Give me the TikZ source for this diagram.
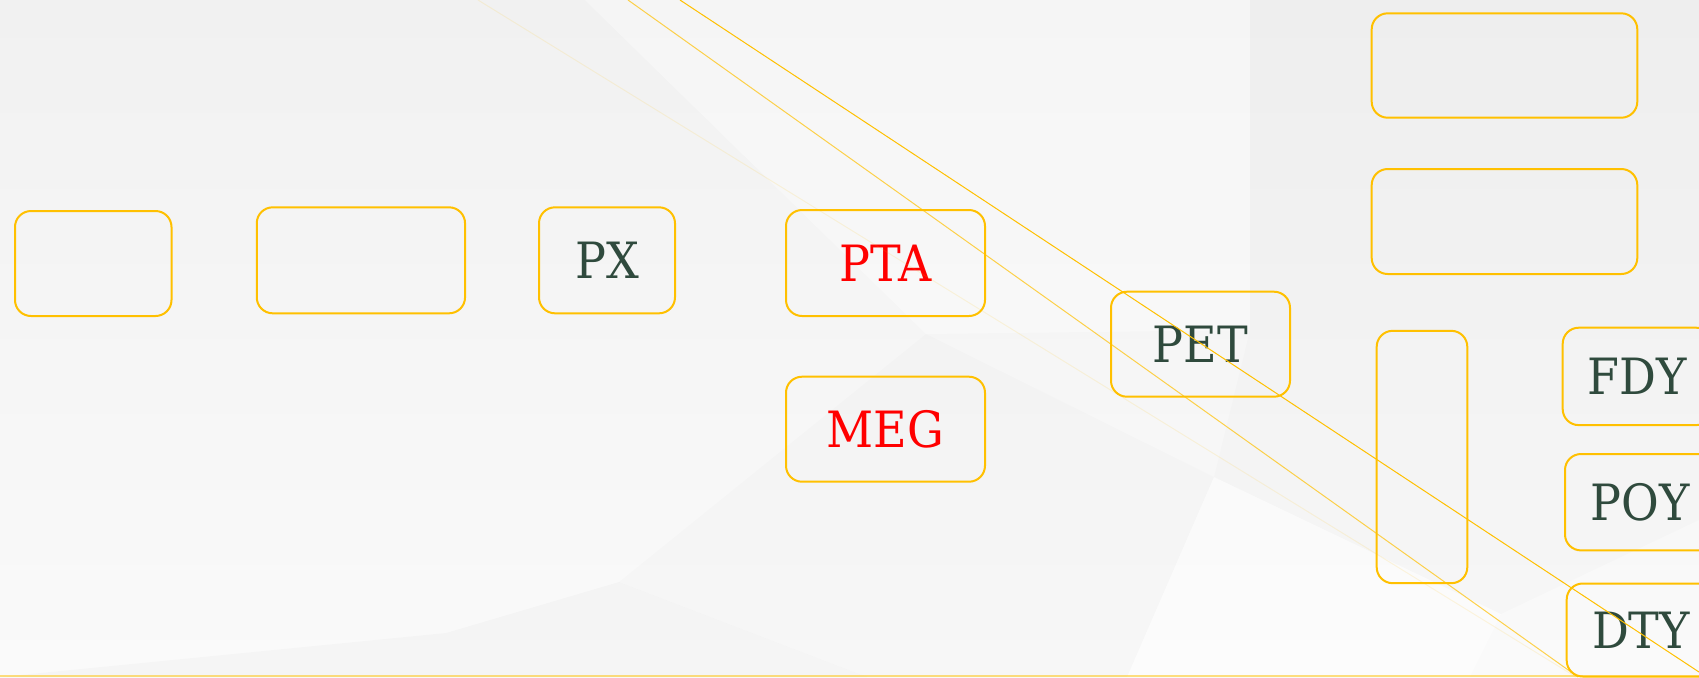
\documentclass[tikz,border=0pt]{standalone}
\usepackage{fontspec}
\setmainfont{DejaVu Serif}[FakeStretch=0.92]
\definecolor{boxgold}{HTML}{FFC000}
\definecolor{txtdark}{HTML}{2F4A3D}
\definecolor{txtred}{HTML}{FF0000}
\definecolor{bgtop}{HTML}{F1F1F1}
\definecolor{bgbot}{HTML}{FAFAFA}
\begin{document}
\begin{tikzpicture}[x=0.5pt,y=-0.5pt,
  box/.style={draw=boxgold, line width=1pt, rounded corners=8pt, inner sep=0pt,
    font=\fontsize{25}{30}\selectfont, text=txtdark},
  redtxt/.style={text=txtred},
  thinline/.style={draw=boxgold, line width=0.5pt}]
\useasboundingbox (0,0) rectangle (1699,677);
\clip (0,0) rectangle (1699,677);
% background
\shade[top color=bgtop, bottom color=bgbot] (0,0) rectangle (1699,677);
\fill[white, opacity=0.35] (585,0) -- (1250,0) -- (1250,330) -- (926,334) -- cycle;
\fill[black, opacity=0.012] (926,334) -- (1214,477) -- (1127,677) -- (867,677) -- (619,582) -- cycle;
\fill[white, opacity=0.4] (1214,477) -- (1501,614) -- (1470,677) -- (1127,677) -- cycle;
\fill[black, opacity=0.02] (0,677) -- (446,633) -- (619,582) -- (867,677) -- cycle;
\fill[black, opacity=0.012] (1250,0) -- (1699,0) -- (1699,520) -- (1501,614) -- (1214,477) -- (1250,330) -- cycle;
% boxes
\node[box, minimum width=78.25pt, minimum height=52.5pt] (a) at (93.25,263.5) {};
\node[box, minimum width=104.15pt, minimum height=53pt] (b) at (360.9,260.3) {};
\node[box, minimum width=68pt, minimum height=53pt] (px) at (607,260.3) {PX};
\node[box, redtxt, minimum width=99.5pt, minimum height=53pt] (pta) at (885.5,263) {PTA};
\node[box, redtxt, minimum width=99.5pt, minimum height=52.5pt] (meg) at (885.5,429.2) {MEG};
\node[box, minimum width=89.5pt, minimum height=52.5pt] (pet) at (1200.5,344.2) {PET};
\node[box, minimum width=132.8pt, minimum height=52.2pt] (tr1) at (1504.5,65.5) {};
\node[box, minimum width=132.8pt, minimum height=52.5pt] (tr2) at (1504.5,221.5) {};
\node[box, minimum width=45.3pt, minimum height=126.2pt] (tall) at (1422,457) {};
\node[box, minimum width=74.8pt, minimum height=48.7pt] (fdy) at (1637.5,376.4) {FDY};
\node[box, minimum width=75pt, minimum height=48.2pt] (poy) at (1640,502.2) {POY};
\node[box, minimum width=74.3pt, minimum height=46.5pt] (dty) at (1641,630) {DTY};
% diagonal lines
\coordinate (la1) at (628,0);
\coordinate (la2) at (1578,677);
\coordinate (lb1) at (680,0);
\coordinate (lb2) at (1699,672);
\coordinate (lc1) at (478,0);
\coordinate (lc2) at (1576,677);
\draw[thinline, opacity=0.7] (la1) -- (la2);
\draw[thinline] (lb1) -- (lb2);
\draw[thinline, opacity=0.12] (lc1) -- (lc2);
% bottom line
\coordinate (bl1) at (0,676);
\coordinate (bl2) at (1699,676);
\draw[boxgold, opacity=0.5, line width=1pt] (bl1) -- (bl2);
\end{tikzpicture}
\end{document}
